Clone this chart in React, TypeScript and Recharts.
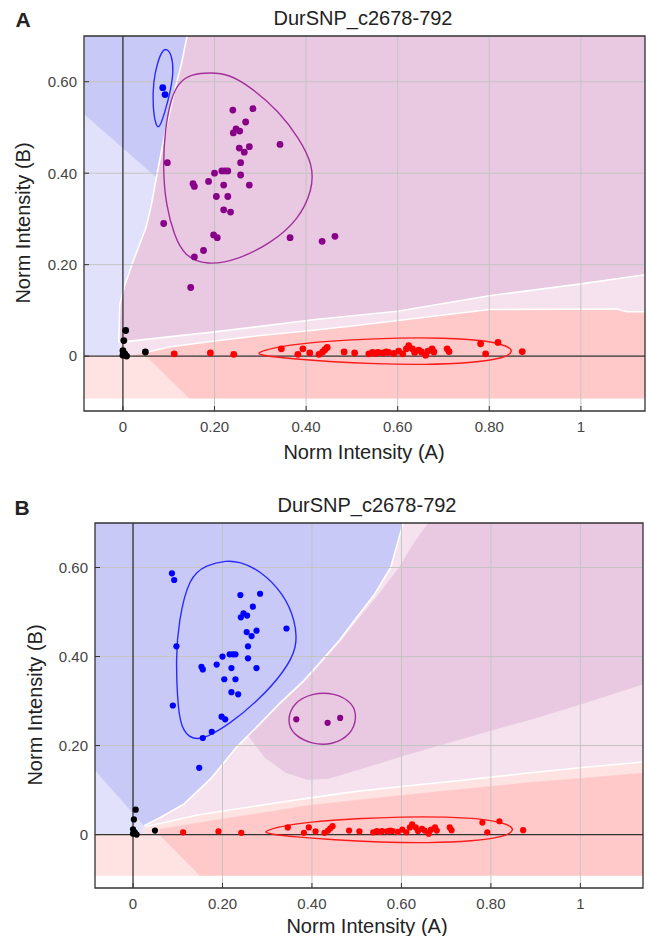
import React from "react";
import { ScatterChart, Scatter, XAxis, YAxis, ReferenceLine, ReferenceArea } from "recharts";

type Pt = [number, number];

const X_MIN = -0.085;
const X_MAX = 1.14;
const Y_MIN = -0.12;
const Y_MAX = 0.7;
const Y_FILL = -0.092;

const xTicks = [0, 0.2, 0.4, 0.6, 0.8, 1];
const yTicks = [0, 0.2, 0.4, 0.6];
const xGrid = [0.2, 0.4, 0.6, 0.8, 1];
const yGrid = [0.2, 0.4, 0.6];
const chartTitle = "DurSNP_c2678-792";
const xTitle = "Norm Intensity (A)";
const yTitle = "Norm Intensity (B)";

// samples (same samples in both panels, only the calls differ)
const bluePts: Pt[] = [[0.087, 0.587], [0.092, 0.572]];
const mainPts: Pt[] = [
  [0.240, 0.538], [0.284, 0.541], [0.268, 0.512], [0.241, 0.488], [0.247, 0.497], [0.255, 0.492],
  [0.343, 0.463], [0.254, 0.455], [0.265, 0.446], [0.276, 0.458], [0.257, 0.423], [0.097, 0.423],
  [0.200, 0.400], [0.216, 0.405], [0.223, 0.405], [0.229, 0.405], [0.257, 0.396], [0.153, 0.377],
  [0.156, 0.371], [0.187, 0.382], [0.220, 0.374], [0.276, 0.374], [0.204, 0.349], [0.229, 0.349],
  [0.220, 0.320], [0.235, 0.315], [0.089, 0.290], [0.198, 0.265], [0.206, 0.259], [0.176, 0.231],
  [0.156, 0.217], [0.148, 0.150],
];
const outlierPts: Pt[] = [[0.365, 0.259], [0.435, 0.251], [0.463, 0.262]];
const blackPts: Pt[] = [[0.006, 0.056], [0.002, 0.034], [0.0, 0.012], [0.004, 0.005], [0.008, 0.0], [0.0, 0.002], [0.049, 0.009]];
const redPts: Pt[] = [
  [0.112, 0.005], [0.191, 0.007], [0.242, 0.004], [0.346, 0.016], [0.382, 0.004], [0.393, 0.016],
  [0.408, 0.007], [0.428, 0.004], [0.436, 0.009], [0.441, 0.014], [0.446, 0.019], [0.483, 0.009],
  [0.506, 0.007], [0.537, 0.005], [0.545, 0.008], [0.552, 0.006], [0.557, 0.008], [0.568, 0.007],
  [0.575, 0.009], [0.580, 0.008], [0.592, 0.006], [0.602, 0.011], [0.611, 0.005], [0.619, 0.016],
  [0.624, 0.023], [0.632, 0.016], [0.637, 0.008], [0.646, 0.013], [0.652, 0.009], [0.661, 0.002],
  [0.666, 0.011], [0.675, 0.016], [0.679, 0.009], [0.708, 0.016], [0.712, 0.010], [0.781, 0.027],
  [0.792, 0.005], [0.819, 0.030], [0.872, 0.010],
];

// cluster outlines
const blueOvalA: Pt[] = [[0.096, 0.672], [0.106, 0.660], [0.111, 0.625], [0.104, 0.580], [0.092, 0.535], [0.080, 0.498], [0.072, 0.502], [0.065, 0.545], [0.066, 0.600], [0.076, 0.645], [0.087, 0.670]];
const purpleEggA: Pt[] = [
  [0.191, 0.620], [0.231, 0.617], [0.281, 0.587], [0.341, 0.535], [0.385, 0.476], [0.415, 0.418],
  [0.414, 0.364], [0.384, 0.299], [0.325, 0.248], [0.252, 0.211], [0.183, 0.198], [0.134, 0.219],
  [0.112, 0.264], [0.094, 0.330], [0.087, 0.410], [0.092, 0.498], [0.105, 0.563], [0.121, 0.598], [0.150, 0.617],
];
const blueEggB: Pt[] = [
  [0.209, 0.616], [0.238, 0.613], [0.284, 0.594], [0.337, 0.541], [0.363, 0.480], [0.368, 0.420],
  [0.337, 0.365], [0.284, 0.305], [0.216, 0.248], [0.164, 0.218], [0.133, 0.212], [0.106, 0.239],
  [0.099, 0.307], [0.096, 0.397], [0.102, 0.480], [0.125, 0.579], [0.164, 0.606],
];
const purpleRingB: Pt[] = [[0.344, 0.255], [0.358, 0.296], [0.400, 0.318], [0.450, 0.319], [0.492, 0.296], [0.501, 0.262], [0.487, 0.224], [0.445, 0.201], [0.400, 0.203], [0.358, 0.224]];
const redOval: Pt[] = [
  [0.288, 0.006], [0.330, 0.019], [0.400, 0.029], [0.500, 0.036], [0.600, 0.040], [0.700, 0.040],
  [0.790, 0.035], [0.842, 0.022], [0.853, 0.010], [0.832, -0.005], [0.760, -0.015], [0.660, -0.019],
  [0.550, -0.017], [0.450, -0.012], [0.360, -0.005], [0.308, 0.001],
];

// call-region boundaries, panel A
const purpleEdgeA: Pt[] = [[0.14, 0.7], [0.128, 0.64], [0.114, 0.585], [0.094, 0.498], [0.074, 0.396], [0.062, 0.33], [0.05, 0.28], [0.022, 0.207], [0.004, 0.155], [-0.007, 0.112], [-0.009, 0.03]];
const upperEdgeA: Pt[] = [[-0.009, 0.03], [0.1, 0.042], [0.2, 0.053], [0.3, 0.065], [0.42, 0.08], [0.6, 0.098], [0.8, 0.132], [1.0, 0.158], [1.14, 0.178]];
const redTopA: Pt[] = [[0.02, 0.0], [0.05, 0.008], [0.1, 0.02], [0.2, 0.033], [0.3, 0.045], [0.4, 0.055], [0.5, 0.066], [0.6, 0.078], [0.7, 0.09], [0.8, 0.102], [1.08, 0.103], [1.1, 0.097], [1.14, 0.097]];

// call-region boundaries, panel B
const blueEdgeB: Pt[] = [[0.604, 0.7], [0.59, 0.65], [0.576, 0.6], [0.54, 0.54], [0.5, 0.488], [0.461, 0.436], [0.422, 0.391], [0.382, 0.346], [0.326, 0.293], [0.27, 0.235], [0.231, 0.196], [0.176, 0.128], [0.113, 0.068], [0.06, 0.038], [0.025, 0.02]];
const purpleEdgeB: Pt[] = [[0.66, 0.7], [0.625, 0.65], [0.595, 0.6], [0.55, 0.54], [0.507, 0.488], [0.466, 0.436], [0.427, 0.391], [0.386, 0.346], [0.33, 0.293], [0.275, 0.237], [0.258, 0.222]];
const purpleLowB: Pt[] = [[0.258, 0.222], [0.295, 0.173], [0.342, 0.139], [0.39, 0.124], [0.437, 0.126], [0.517, 0.15], [0.6, 0.176], [0.7, 0.205], [0.8, 0.234], [0.9, 0.262], [1.0, 0.293], [1.14, 0.338]];
const whiteEdgeB: Pt[] = [[0.03, 0.018], [0.15, 0.045], [0.3, 0.068], [0.4, 0.083], [0.5, 0.097], [0.6, 0.108], [0.7, 0.118], [0.8, 0.129], [0.9, 0.14], [1.0, 0.15], [1.14, 0.163]];
const redTopB: Pt[] = [[0.057, 0.0], [0.06, 0.012], [0.2, 0.035], [0.3, 0.05], [0.39, 0.065], [0.5, 0.077], [0.6, 0.088], [0.7, 0.098], [0.8, 0.108], [0.9, 0.118], [1.0, 0.126], [1.14, 0.138]];

const C = {
  darkBlue: "#c9c9f7",
  lightBlue: "#e1e1fb",
  purple: "#e9c9e1",
  lightPink: "#f6e2ee",
  red: "#ffc9c9",
  lightRed: "#ffe2e2",
  grid: "#c4c4c4",
};

const FONT = '"Liberation Sans", Arial, sans-serif';
const Y_AXIS_W = 50;
const X_AXIS_H = 30;

const toXY = (pts: Pt[]) => pts.map(([x, y]) => ({ x, y }));
const fmt = (v: number) => (v === 0 ? "0" : v === 1 ? "1" : v.toFixed(2));
const noShape = () => null;

const baseRect: Pt[] = [[X_MIN, 0], [X_MAX, 0], [X_MAX, Y_MAX], [X_MIN, Y_MAX]];

const panelA = {
  letter: "A",
  top: 0,
  height: 465,
  plot: { left: 84, top: 36, right: 645, bottom: 411 },
  text: { letter: [23, 19], title: [363, 18], y: [23, 223], x: [364, 452] },
  regions: [
    { fill: C.lightPink, pts: baseRect },
    { fill: C.lightBlue, pts: [[X_MIN, 0], [X_MIN, Y_MAX], ...purpleEdgeA, [-0.009, 0]] as Pt[] },
    { fill: C.darkBlue, pts: [[X_MIN, 0.53], [X_MIN, Y_MAX], ...purpleEdgeA.slice(0, 5), [0.072, 0.392]] as Pt[] },
    { fill: C.purple, pts: [...purpleEdgeA, ...upperEdgeA.slice(1), [X_MAX, Y_MAX]] as Pt[] },
    { fill: C.lightRed, pts: [[X_MIN, 0], [0.051, 0], [0.145, Y_FILL], [X_MIN, Y_FILL]] as Pt[] },
    { fill: C.red, pts: [...redTopA, [X_MAX, Y_FILL], [0.145, Y_FILL], [0.051, 0]] as Pt[] },
  ],
  edges: [purpleEdgeA, upperEdgeA, redTopA.slice(1)],
  outlines: [
    { stroke: "#2b2bff", pts: blueOvalA },
    { stroke: "#a2309c", pts: purpleEggA },
    { stroke: "#ff1a1a", pts: redOval },
  ],
  points: [
    { fill: "#000000", pts: blackPts, r: 3.4 },
    { fill: "#ff0000", pts: redPts, r: 3.4 },
    { fill: "#880088", pts: [...mainPts, ...outlierPts], r: 3.4 },
    { fill: "#0000ff", pts: bluePts, r: 3.4 },
  ],
};

const panelB = {
  letter: "B",
  top: 470,
  height: 466,
  plot: { left: 95, top: 53, right: 643, bottom: 418 },
  text: { letter: [22, 37], title: [367, 35], y: [35, 235], x: [367, 456] },
  regions: [
    { fill: C.lightPink, pts: baseRect },
    { fill: C.lightBlue, pts: [[X_MIN, 0], [X_MIN, 0.145], [0.025, 0.02], [0.015, 0]] as Pt[] },
    { fill: C.darkBlue, pts: [[X_MIN, 0.145], [X_MIN, Y_MAX], ...blueEdgeB] as Pt[] },
    { fill: C.purple, pts: [...purpleEdgeB, ...purpleLowB.slice(1), [X_MAX, Y_MAX]] as Pt[] },
    { fill: C.lightRed, pts: [...whiteEdgeB, [X_MAX, 0], [0.03, 0]] as Pt[] },
    { fill: C.red, pts: [...redTopB, [X_MAX, Y_FILL], [0.148, Y_FILL]] as Pt[] },
    { fill: C.lightRed, pts: [[X_MIN, 0], [0.057, 0], [0.148, Y_FILL], [X_MIN, Y_FILL]] as Pt[] },
  ],
  edges: [blueEdgeB, whiteEdgeB],
  outlines: [
    { stroke: "#2b2bff", pts: blueEggB },
    { stroke: "#a2309c", pts: purpleRingB },
    { stroke: "#ff1a1a", pts: redOval },
  ],
  points: [
    { fill: "#000000", pts: blackPts, r: 3.1 },
    { fill: "#ff0000", pts: redPts, r: 3.1 },
    { fill: "#880088", pts: outlierPts, r: 3.1 },
    { fill: "#0000ff", pts: [...bluePts, ...mainPts], r: 3.1 },
  ],
};

type PanelSpec = typeof panelA;

function Label({ at, children, size, bold, rotate }: { at: number[]; children: React.ReactNode; size: number; bold?: boolean; rotate?: boolean }) {
  return (
    <div
      style={{
        position: "absolute",
        left: at[0],
        top: at[1],
        transform: `translate(-50%, -50%)${rotate ? " rotate(-90deg)" : ""}`,
        fontFamily: FONT,
        fontSize: size,
        fontWeight: bold ? 700 : 400,
        color: "#222",
        lineHeight: 1,
        whiteSpace: "nowrap",
      }}
    >
      {children}
    </div>
  );
}

function Panel({ spec }: { spec: PanelSpec }) {
  const { plot, height } = spec;
  const tickStyle = { fill: "#444", fontSize: 15, fontFamily: FONT };
  return (
    <div style={{ position: "absolute", left: 0, top: spec.top, width: 648, height }}>
      <ScatterChart
        width={648}
        height={height}
        margin={{ top: plot.top, right: 648 - plot.right, left: plot.left - Y_AXIS_W, bottom: height - plot.bottom - X_AXIS_H }}
      >
        <XAxis
          type="number"
          dataKey="x"
          domain={[X_MIN, X_MAX]}
          allowDataOverflow
          ticks={xTicks}
          interval={0}
          tickFormatter={fmt}
          height={X_AXIS_H}
          axisLine={false}
          tickLine={{ stroke: "#333" }}
          tickSize={-5}
          tickMargin={15}
          tick={tickStyle}
        />
        <YAxis
          type="number"
          dataKey="y"
          domain={[Y_MIN, Y_MAX]}
          allowDataOverflow
          ticks={yTicks}
          interval={0}
          tickFormatter={fmt}
          width={Y_AXIS_W}
          axisLine={false}
          tickLine={{ stroke: "#333" }}
          tickSize={-5}
          tickMargin={12}
          tick={tickStyle}
        />
        {spec.regions.map((r, i) => (
          <Scatter
            key={`region-${i}`}
            data={toXY(r.pts)}
            line={{ fill: r.fill, stroke: r.fill, strokeWidth: 0.6 }}
            lineType="joint"
            lineJointType="linearClosed"
            shape={noShape}
            isAnimationActive={false}
            zIndex={10}
          />
        ))}
        {spec.edges.map((e, i) => (
          <Scatter
            key={`edge-${i}`}
            data={toXY(e)}
            line={{ stroke: "#ffffff", strokeWidth: 1.6 }}
            lineType="joint"
            lineJointType="linear"
            shape={noShape}
            isAnimationActive={false}
            zIndex={20}
          />
        ))}
        {xGrid.map((v) => (
          <ReferenceLine key={`gx-${v}`} x={v} stroke={C.grid} strokeWidth={1} zIndex={30} />
        ))}
        {yGrid.map((v) => (
          <ReferenceLine key={`gy-${v}`} y={v} stroke={C.grid} strokeWidth={1} zIndex={30} />
        ))}
        <ReferenceLine x={0} stroke="#222" strokeWidth={1.2} zIndex={40} />
        <ReferenceLine y={0} stroke="#333" strokeWidth={1.2} zIndex={40} />
        {spec.outlines.map((o, i) => (
          <Scatter
            key={`outline-${i}`}
            data={toXY(o.pts)}
            line={{ stroke: o.stroke, strokeWidth: 1.4, fill: "none" }}
            lineType="joint"
            lineJointType="basisClosed"
            shape={noShape}
            isAnimationActive={false}
            zIndex={50}
          />
        ))}
        {spec.points.map((p, i) => (
          <Scatter
            key={`pts-${i}`}
            data={toXY(p.pts)}
            fill={p.fill}
            shape={(s: any) => <circle cx={s.cx} cy={s.cy} r={p.r} fill={p.fill} />}
            isAnimationActive={false}
            zIndex={60}
          />
        ))}
        <ReferenceArea x1={X_MIN} x2={X_MAX} y1={Y_MIN} y2={Y_MAX} fill="none" fillOpacity={0} stroke="#333" strokeWidth={1.3} zIndex={70} />
      </ScatterChart>
      <Label at={spec.text.letter} size={21} bold>{spec.letter}</Label>
      <Label at={spec.text.title} size={20}>{chartTitle}</Label>
      <Label at={spec.text.y} size={20} rotate>{yTitle}</Label>
      <Label at={spec.text.x} size={20}>{xTitle}</Label>
    </div>
  );
}

export default function App() {
  return (
    <div style={{ position: "absolute", left: 0, top: 0, width: 648, height: 936, background: "#fff", overflow: "hidden" }}>
      <Panel spec={panelA} />
      <Panel spec={panelB} />
    </div>
  );
}
